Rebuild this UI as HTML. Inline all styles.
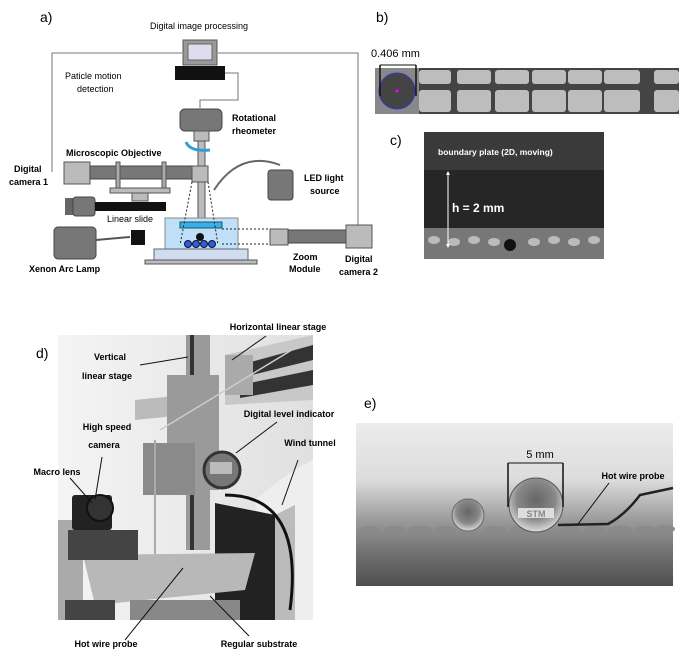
<!DOCTYPE html>
<html><head><style>
body{margin:0;background:#fff;width:700px;height:655px;overflow:hidden}
svg text{font-family:"Liberation Sans",sans-serif}
</style></head><body>
<svg width="700" height="655" viewBox="0 0 700 655" xmlns="http://www.w3.org/2000/svg">
<defs>
<linearGradient id="ge" x1="0" y1="0" x2="0" y2="1"><stop offset="0" stop-color="#ececec"/><stop offset="0.35" stop-color="#dcdcdc"/><stop offset="0.6" stop-color="#9a9a9a"/><stop offset="0.75" stop-color="#7a7a7a"/><stop offset="1" stop-color="#4e4e4e"/></linearGradient>
<linearGradient id="gd" x1="0" y1="0" x2="1" y2="0"><stop offset="0" stop-color="#f4f4f4"/><stop offset="1" stop-color="#e0e0e0"/></linearGradient>
<radialGradient id="drop" cx="0.5" cy="0.4" r="0.6"><stop offset="0" stop-color="#666"/><stop offset="0.6" stop-color="#888"/><stop offset="1" stop-color="#ddd"/></radialGradient>
</defs>
<!-- panel a -->
<text x="40" y="22" font-size="14">a)</text>
<text x="150" y="29" font-size="9">Digital image processing</text>
<rect x="183" y="40" width="34" height="25" fill="#999" stroke="#555"/>
<rect x="188" y="44" width="24" height="16" fill="#dde" stroke="#666"/>
<rect x="175" y="66" width="50" height="14" fill="#111"/>
<polyline points="52,172 52,53 182,53" fill="none" stroke="#777"/>
<polyline points="218,53 358,53 358,228" fill="none" stroke="#777"/>
<polyline points="225,73 238,73 238,100 200,100 200,108" fill="none" stroke="#777"/>
<text x="65" y="79" font-size="9">Paticle motion</text>
<text x="77" y="92" font-size="9">detection</text>
<rect x="180" y="109" width="42" height="22" rx="5" fill="#777" stroke="#444"/>
<text x="232" y="121" font-size="9" font-weight="bold">Rotational</text>
<text x="232" y="134" font-size="9" font-weight="bold">rheometer</text>
<rect x="194" y="131" width="15" height="10" fill="#bbb" stroke="#555"/>
<rect x="198" y="141" width="7" height="80" fill="#bbb" stroke="#555"/>
<path d="M186,142 Q190,152 210,150" fill="none" stroke="#2aa0d8" stroke-width="3"/>
<text x="66" y="156" font-size="9" font-weight="bold">Microscopic Objective</text>
<text x="14" y="172" font-size="9" font-weight="bold">Digital</text>
<text x="9" y="185" font-size="9" font-weight="bold">camera 1</text>
<rect x="64" y="162" width="26" height="22" fill="#bbb" stroke="#555"/>
<rect x="90" y="166" width="102" height="13" fill="#777" stroke="#444"/>
<rect x="192" y="166" width="16" height="16" fill="#bbb" stroke="#555"/>
<rect x="116" y="162" width="4" height="26" fill="#aaa" stroke="#555"/>
<rect x="162" y="162" width="4" height="26" fill="#aaa" stroke="#555"/>
<rect x="110" y="188" width="60" height="5" fill="#bbb" stroke="#555"/>
<rect x="132" y="193" width="16" height="8" fill="#bbb" stroke="#555"/>
<rect x="65" y="198" width="10" height="17" fill="#666"/>
<rect x="73" y="197" width="22" height="19" rx="3" fill="#777" stroke="#444"/>
<rect x="95" y="202" width="71" height="9" fill="#111"/>
<text x="107" y="222" font-size="9">Linear slide</text>
<path d="M214,190 Q240,150 280,165" fill="none" stroke="#666" stroke-width="2"/>
<rect x="268" y="170" width="25" height="30" rx="3" fill="#777" stroke="#444"/>
<text x="304" y="181" font-size="9" font-weight="bold">LED light</text>
<text x="310" y="194" font-size="9" font-weight="bold">source</text>
<rect x="165" y="218" width="73" height="31" fill="#bfe0f8" stroke="#888"/>
<rect x="180" y="222" width="42" height="6" fill="#36b0e8" stroke="#256"/>
<circle cx="200" cy="237" r="4" fill="#111"/>
<g fill="#2b5ed8" stroke="#113"><circle cx="188" cy="244" r="3.5"/><circle cx="196" cy="244" r="3.5"/><circle cx="204" cy="244" r="3.5"/><circle cx="212" cy="244" r="3.5"/></g>
<rect x="154" y="249" width="94" height="11" fill="#d0dcf0" stroke="#666"/>
<rect x="145" y="260" width="112" height="4" fill="#bbb" stroke="#555"/>
<path d="M192,182 L180,245 M208,182 L218,245" stroke="#222" stroke-dasharray="2,2"/>
<line x1="222" y1="229" x2="272" y2="229" stroke="#222" stroke-dasharray="2,2"/>
<line x1="222" y1="244" x2="272" y2="244" stroke="#222" stroke-dasharray="2,2"/>
<rect x="54" y="227" width="42" height="32" rx="4" fill="#777" stroke="#444"/>
<path d="M96,240 L130,237" stroke="#555" stroke-width="2"/>
<rect x="131" y="230" width="14" height="15" fill="#111"/>
<text x="29" y="272" font-size="9" font-weight="bold">Xenon Arc Lamp</text>
<rect x="270" y="229" width="18" height="16" fill="#bbb" stroke="#555"/>
<rect x="288" y="230" width="58" height="13" fill="#777" stroke="#444"/>
<rect x="346" y="225" width="26" height="23" fill="#bbb" stroke="#555"/>
<text x="293" y="260" font-size="9" font-weight="bold">Zoom</text>
<text x="289" y="272" font-size="9" font-weight="bold">Module</text>
<text x="345" y="262" font-size="9" font-weight="bold">Digital</text>
<text x="339" y="275" font-size="9" font-weight="bold">camera 2</text>
<!-- panel b -->
<text x="376" y="22" font-size="14">b)</text>
<text x="371" y="57" font-size="11">0.406 mm</text>
<line x1="380" y1="65" x2="416" y2="65" stroke="#111"/>
<rect x="375" y="68" width="304" height="46" fill="#444"/>
<g fill="#bdbdbd">
<rect x="419" y="70" width="32" height="14" rx="3"/><rect x="457" y="70" width="34" height="14" rx="3"/><rect x="495" y="70" width="34" height="14" rx="3"/><rect x="532" y="70" width="34" height="14" rx="3"/><rect x="568" y="70" width="34" height="14" rx="3"/><rect x="604" y="70" width="36" height="14" rx="3"/><rect x="654" y="70" width="25" height="14" rx="3"/>
<rect x="419" y="90" width="32" height="22" rx="3"/><rect x="457" y="90" width="34" height="22" rx="3"/><rect x="495" y="90" width="34" height="22" rx="3"/><rect x="532" y="90" width="34" height="22" rx="3"/><rect x="568" y="90" width="34" height="22" rx="3"/><rect x="604" y="90" width="36" height="22" rx="3"/><rect x="654" y="90" width="25" height="22" rx="3"/>
</g>
<rect x="375" y="68" width="44" height="46" fill="#888"/>
<circle cx="397" cy="91" r="18" fill="#444" stroke="#33c"/>
<circle cx="397" cy="91" r="1.5" fill="#f0f"/>
<line x1="380" y1="65" x2="380" y2="96" stroke="#111" stroke-width="1.5"/>
<line x1="416" y1="65" x2="416" y2="96" stroke="#111" stroke-width="1.5"/>
<!-- panel c -->
<text x="390" y="145" font-size="14">c)</text>
<rect x="424" y="132" width="180" height="127" fill="#262626"/>
<rect x="424" y="132" width="180" height="38" fill="#3a3a3a"/>
<rect x="424" y="228" width="180" height="31" fill="#777"/>
<g fill="#bbb"><ellipse cx="434" cy="240" rx="6" ry="4"/><ellipse cx="454" cy="242" rx="6" ry="4"/><ellipse cx="474" cy="240" rx="6" ry="4"/><ellipse cx="494" cy="242" rx="6" ry="4"/><ellipse cx="534" cy="242" rx="6" ry="4"/><ellipse cx="554" cy="240" rx="6" ry="4"/><ellipse cx="574" cy="242" rx="6" ry="4"/><ellipse cx="594" cy="240" rx="6" ry="4"/></g>
<text x="438" y="155" font-size="8.5" font-weight="bold" fill="#fff">boundary plate (2D, moving)</text>
<line x1="448" y1="173" x2="448" y2="246" stroke="#fff"/>
<path d="M446,175 L448,171 L450,175Z M446,244 L448,248 L450,244Z" fill="#fff"/>
<text x="452" y="212" font-size="12" font-weight="bold" fill="#fff">h = 2 mm</text>
<circle cx="510" cy="245" r="6" fill="#111"/>
<!-- panel d -->
<text x="36" y="358" font-size="14">d)</text>
<rect x="58" y="335" width="255" height="285" fill="url(#gd)"/>
<rect x="186" y="335" width="24" height="215" fill="#9a9a9a"/>
<rect x="190" y="335" width="4" height="215" fill="#333"/>
<path d="M225,355 L313,335 L313,400 L225,405Z" fill="#c8c8c8"/>
<path d="M240,365 L313,345 L313,360 L240,378Z M240,385 L313,370 L313,385 L240,398Z" fill="#333"/>
<rect x="225" y="355" width="28" height="40" fill="#aaa"/>
<path d="M135,400 L185,395 L185,415 L135,420Z" fill="#bbb"/>
<rect x="167" y="375" width="52" height="115" fill="#9a9a9a"/>
<rect x="143" y="443" width="52" height="52" fill="#8a8a8a"/>
<line x1="155" y1="440" x2="155" y2="570" stroke="#aaa" stroke-width="2"/>
<line x1="160" y1="430" x2="300" y2="345" stroke="#ccc" stroke-width="1.5"/>
<circle cx="222" cy="470" r="18" fill="#777" stroke="#333" stroke-width="3"/>
<rect x="210" y="462" width="22" height="12" fill="#bbb"/>
<path d="M255,500 Q290,470 313,460 L313,620 L265,620Z" fill="#eee"/>
<path d="M215,503 L275,515 L275,620 L215,620Z" fill="#222"/>
<path d="M275,515 L295,505 L295,620 L275,620Z" fill="#bbb"/>
<path d="M225,495 Q305,495 290,610" fill="none" stroke="#111" stroke-width="3"/>
<path d="M83,555 L255,553 L245,590 L95,605Z" fill="#b8b8b8"/>
<rect x="58" y="520" width="25" height="100" fill="#aaa"/>
<rect x="68" y="530" width="70" height="30" fill="#444"/>
<rect x="72" y="495" width="40" height="35" rx="3" fill="#222"/>
<circle cx="100" cy="508" r="13" fill="#333" stroke="#111" stroke-width="2"/>
<rect x="65" y="600" width="50" height="20" fill="#444"/>
<rect x="130" y="600" width="110" height="20" fill="#888"/>
<g stroke="#111" stroke-width="1">
<line x1="140" y1="365" x2="188" y2="357"/>
<line x1="232" y1="360" x2="266" y2="336"/>
<line x1="236" y1="453" x2="277" y2="422"/>
<line x1="282" y1="505" x2="298" y2="460"/>
<line x1="95" y1="500" x2="102" y2="457"/>
<line x1="70" y1="478" x2="92" y2="503"/>
<line x1="125" y1="640" x2="183" y2="568"/>
<line x1="249" y1="636" x2="210" y2="596"/>
</g>
<g font-size="9" font-weight="bold" text-anchor="middle">
<text x="278" y="330">Horizontal linear stage</text>
<text x="110" y="360">Vertical</text>
<text x="107" y="379">linear stage</text>
<text x="289" y="417">Digital level indicator</text>
<text x="107" y="430">High speed</text>
<text x="104" y="448">camera</text>
<text x="310" y="446">Wind tunnel</text>
<text x="57" y="475">Macro lens</text>
<text x="106" y="647">Hot wire probe</text>
<text x="259" y="647">Regular substrate</text>
</g>
<!-- panel e -->
<text x="364" y="408" font-size="14">e)</text>
<rect x="356" y="423" width="317" height="163" fill="url(#ge)"/>
<g fill="#8a8a8a"><ellipse cx="370" cy="530" rx="11" ry="4"/><ellipse cx="395" cy="530" rx="11" ry="4"/><ellipse cx="420" cy="530" rx="11" ry="4"/><ellipse cx="445" cy="530" rx="11" ry="4"/><ellipse cx="495" cy="530" rx="11" ry="4"/><ellipse cx="520" cy="530" rx="11" ry="4"/><ellipse cx="570" cy="530" rx="11" ry="4"/><ellipse cx="595" cy="530" rx="11" ry="4"/><ellipse cx="620" cy="530" rx="11" ry="4"/><ellipse cx="645" cy="530" rx="11" ry="4"/><ellipse cx="665" cy="529" rx="10" ry="4"/></g>
<circle cx="468" cy="515" r="16" fill="url(#drop)" stroke="#666"/>
<circle cx="536" cy="505" r="27" fill="url(#drop)" stroke="#555"/>
<rect x="518" y="508" width="36" height="10" fill="#ddd"/>
<text x="536" y="517" font-size="9" font-weight="bold" text-anchor="middle" fill="#888">STM</text>
<path d="M558,525 L608,524 Q625,515 640,495 L673,488" fill="none" stroke="#222" stroke-width="2.5"/>
<text x="540" y="458" font-size="11" text-anchor="middle">5 mm</text>
<line x1="508" y1="463" x2="563" y2="463" stroke="#111"/>
<line x1="508" y1="463" x2="508" y2="507" stroke="#111" stroke-width="1.5"/>
<line x1="563" y1="463" x2="563" y2="507" stroke="#111" stroke-width="1.5"/>
<line x1="578" y1="524" x2="609" y2="483" stroke="#111"/>
<text x="633" y="479" font-size="9" font-weight="bold" text-anchor="middle">Hot wire probe</text>
</svg>
</body></html>
